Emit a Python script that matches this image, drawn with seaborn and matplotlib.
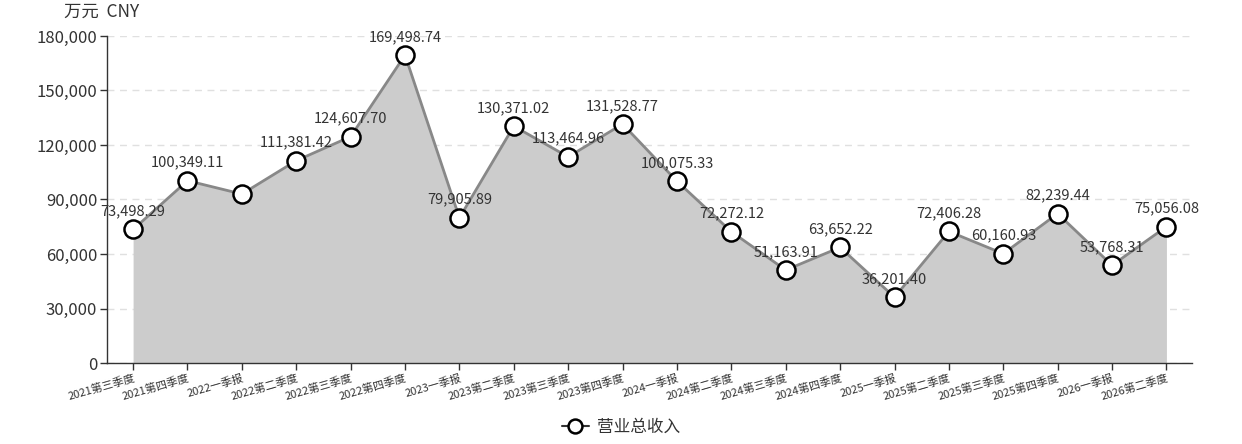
import matplotlib
matplotlib.use("Agg")
import matplotlib.pyplot as plt
import seaborn as sns
import pandas as pd
import numpy as np
from matplotlib.ticker import FuncFormatter, FixedLocator
from matplotlib.lines import Line2D

sns.set_theme(style="white")
plt.rcParams['font.family'] = ['Noto Sans CJK SC', 'DejaVu Sans']

categories = ["2021第三季度", "2021第四季度", "2022一季报", "2022第二季度", "2022第三季度",
              "2022第四季度", "2023一季报", "2023第二季度", "2023第三季度", "2023第四季度",
              "2024一季报", "2024第二季度", "2024第三季度", "2024第四季度", "2025一季报",
              "2025第二季度", "2025第三季度", "2025第四季度", "2026一季报", "2026第二季度"]
revenue = [73498.29, 100349.11, 93000.00, 111381.42, 124607.70,
           169498.74, 79905.89, 130371.02, 113464.96, 131528.77,
           100075.33, 72272.12, 51163.91, 63652.22, 36201.40,
           72406.28, 60160.93, 82239.44, 53768.31, 75056.08]
hidden_labels = [2]
y_ticks = [0, 30000, 60000, 90000, 120000, 150000, 180000]
series_name = "营业总收入"
unit_label = "万元  CNY"

df = pd.DataFrame({"pos": np.arange(len(categories)), "value": revenue, "cat": categories})

fig = plt.figure(figsize=(12.42, 4.44), dpi=100)
ax = fig.add_axes([107/1242, 1-363/444, (1192-107)/1242, (363-36)/444])

ax.fill_between(df["pos"], df["value"], 0, color="#cccccc", linewidth=0, zorder=1)
sns.lineplot(data=df, x="pos", y="value", ax=ax, color="#888888", linewidth=2,
             marker="o", markersize=13, markerfacecolor="white",
             markeredgecolor="black", markeredgewidth=1.8, zorder=3)

for i, (p, v) in enumerate(zip(df["pos"], df["value"])):
    if i in hidden_labels:
        continue
    ax.annotate(f"{v:,.2f}", (p, v), xytext=(0, 8), textcoords="offset points",
                ha="center", va="bottom", fontsize=10.5, color="#333333", zorder=4)

ax.set_xlim(-0.48, len(categories) - 1 + 0.47)
ax.set_ylim(0, 180000)
ax.yaxis.set_major_locator(FixedLocator(y_ticks))
ax.yaxis.set_major_formatter(FuncFormatter(lambda v, _: f"{int(v):,}"))
ax.set_xticks(df["pos"])
ax.set_xticklabels(categories, rotation=16, ha="right", rotation_mode="anchor",
                   fontsize=8, color="#333333")
ax.tick_params(axis="x", length=5, width=1, color="#333333", pad=2, bottom=True)
ax.tick_params(axis="y", length=5, width=1, color="#333333", pad=2, left=True,
               labelsize=12, labelcolor="#333333")

ax.grid(axis="y", color="#e0e0e0", linestyle=(0, (5, 4)), linewidth=1)
ax.set_axisbelow(True)
for s in ["top", "right"]:
    ax.spines[s].set_visible(False)
for s in ["left", "bottom"]:
    ax.spines[s].set_color("#333333")
    ax.spines[s].set_linewidth(1)
ax.set_xlabel("")
ax.set_ylabel("")

fig.text(64/1242, 1-12/444, unit_label, fontsize=12.5, color="#333333", va="center", ha="left")

handle = Line2D([0], [0], color="#333333", linewidth=1.5, marker="o", markersize=10,
                markerfacecolor="white", markeredgecolor="black", markeredgewidth=1.8)
fig.legend([handle], [series_name], loc="center", bbox_to_anchor=(0.5, 1-427/444),
           frameon=False, fontsize=12, handlelength=1.6, handletextpad=0.5,
           labelcolor="#333333")

fig.savefig("out.png", dpi=100)
